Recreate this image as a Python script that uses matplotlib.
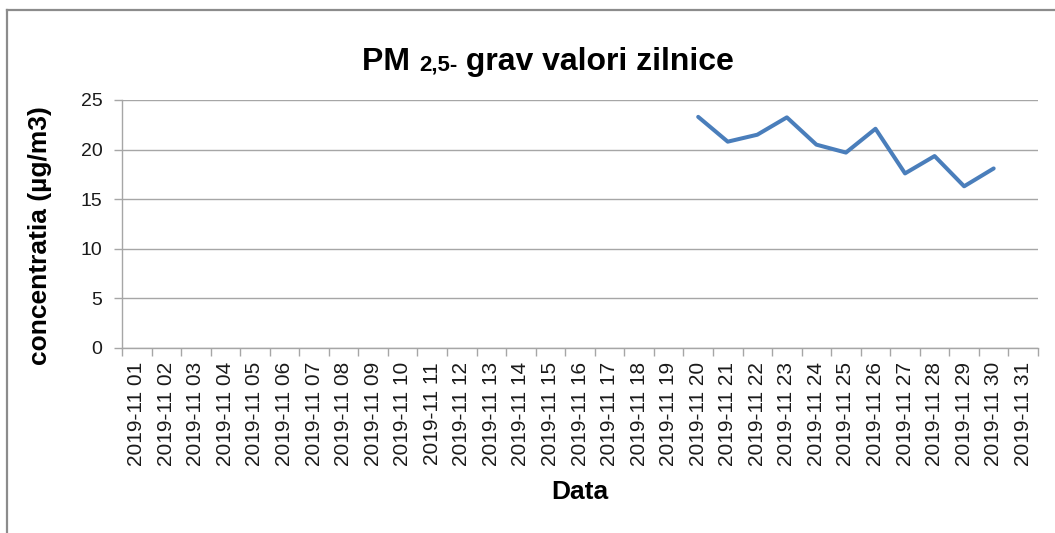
import matplotlib
matplotlib.use("Agg")
import matplotlib.pyplot as plt
from matplotlib.lines import Line2D
import numpy as np

# ---- data ----
days = [f"2019-11 {d:02d}" for d in range(1, 32)]
pm25 = [np.nan] * 19 + [23.3, 20.8, 21.5, 23.25, 20.5, 19.7, 22.1, 17.6, 19.35, 16.3, 18.1] + [np.nan]
yticks = [0, 5, 10, 15, 20, 25]
title_main = "PM "
title_sub = "2,5-"
title_rest = " grav valori zilnice"
ylabel = "concentratia (µg/m3)"
xlabel = "Data"

plt.rcParams['font.family'] = ['Liberation Sans', 'DejaVu Sans']

W, H = 1055, 533
fig = plt.figure(figsize=(W / 100, H / 100), dpi=100)
fig.patch.set_facecolor("white")

# border lines (left + top)
border_col = "#8c8c8c"
fig.add_artist(Line2D([7 / W, 7 / W], [0, 1 - 10 / H], transform=fig.transFigure,
                      color=border_col, lw=1.6))
fig.add_artist(Line2D([7 / W, 1], [1 - 10 / H, 1 - 10 / H], transform=fig.transFigure,
                      color=border_col, lw=1.6))

ax = fig.add_axes([122 / W, 1 - 348 / H, (1038 - 122) / W, (348 - 100) / H])
x = np.arange(len(days))
ax.plot(x, pm25, color="#4a7ebb", lw=2.9, solid_joinstyle="round", solid_capstyle="round")

ax.set_xlim(-0.5, len(days) - 0.5)
ax.set_ylim(0, 25)
ax.set_yticks(yticks)
ax.grid(axis="y", color="#a6a6a6", lw=1.0)
ax.set_axisbelow(True)

gcol = "#a6a6a6"
for s in ["top", "right"]:
    ax.spines[s].set_visible(False)
for s in ["left", "bottom"]:
    ax.spines[s].set_color(gcol)
    ax.spines[s].set_linewidth(1.0)

# x ticks: marks at boundaries, labels at centers
ax.set_xticks(np.arange(-0.5, len(days), 1.0))
ax.set_xticklabels([])
ax.set_xticks(x, minor=True)
ax.set_xticklabels(days, minor=True, rotation=90, fontsize=15, color="#1a1a1a")
ax.tick_params(axis="x", which="major", length=6, width=1, color=gcol, direction="out")
ax.tick_params(axis="x", which="minor", length=0, pad=10)
ax.tick_params(axis="y", length=6, width=1, color=gcol, direction="out", pad=8,
               labelsize=14, labelcolor="#1a1a1a")

ax.set_ylabel(ylabel, fontsize=19, fontweight="bold", va="center")
ax.yaxis.set_label_coords(-0.0895, 0.452)
ax.set_xlabel(xlabel, fontsize=19, fontweight="bold", va="center")
ax.xaxis.set_label_coords(0.5, -0.58)

# title with smaller subscript-like part
fig.canvas.draw()
r = fig.canvas.get_renderer()
base_y = 1 - 70 / H
t1 = fig.text(0, base_y, title_main, fontsize=23, fontweight="bold", va="baseline", ha="left")
t2 = fig.text(0, base_y, title_sub, fontsize=16, fontweight="bold", va="baseline", ha="left")
t3 = fig.text(0, base_y, title_rest, fontsize=23, fontweight="bold", va="baseline", ha="left")
w1 = t1.get_window_extent(r).width
w2 = t2.get_window_extent(r).width
w3 = t3.get_window_extent(r).width
total = w1 + w2 + w3
cx = 548
start = cx - total / 2
t1.set_x(start / W)
t2.set_x((start + w1) / W)
t3.set_x((start + w1 + w2) / W)

fig.savefig("out.png", dpi=100)
